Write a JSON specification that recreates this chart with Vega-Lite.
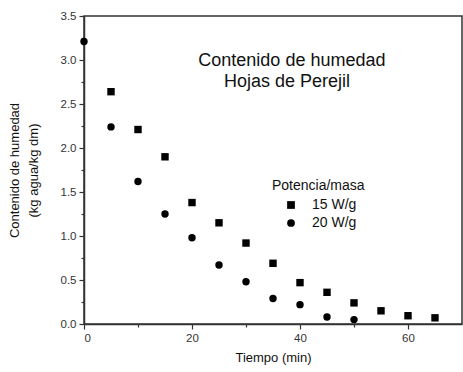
{
  "$schema": "https://vega.github.io/schema/vega-lite/v6.json",
  "width": 378,
  "height": 308,
  "autosize": "none",
  "padding": {"left": 84, "top": 16, "right": 1, "bottom": 48},
  "background": "white",
  "config": {
    "font": "Liberation Sans",
    "view": {"stroke": "#333", "strokeWidth": 1.5},
    "axis": {"grid": false, "domainColor": "#333", "domainWidth": 1.5, "tickColor": "#333", "tickWidth": 1.2, "labelColor": "#333", "labelFont": "Liberation Sans", "titleFont": "Liberation Sans", "titleFontWeight": "normal", "titleColor": "#111"}
  },
  "layer": [
    {
      "data": {"values": [
        {"serie": "20 W/g", "t": 0, "m": 3.21},
        {"serie": "15 W/g", "t": 5, "m": 2.64},
        {"serie": "15 W/g", "t": 10, "m": 2.21},
        {"serie": "15 W/g", "t": 15, "m": 1.9},
        {"serie": "15 W/g", "t": 20, "m": 1.38},
        {"serie": "15 W/g", "t": 25, "m": 1.15},
        {"serie": "15 W/g", "t": 30, "m": 0.92},
        {"serie": "15 W/g", "t": 35, "m": 0.69},
        {"serie": "15 W/g", "t": 40, "m": 0.47},
        {"serie": "15 W/g", "t": 45, "m": 0.36},
        {"serie": "15 W/g", "t": 50, "m": 0.24},
        {"serie": "15 W/g", "t": 55, "m": 0.15},
        {"serie": "15 W/g", "t": 60, "m": 0.094},
        {"serie": "15 W/g", "t": 65, "m": 0.07},
        {"serie": "20 W/g", "t": 5, "m": 2.24},
        {"serie": "20 W/g", "t": 10, "m": 1.62},
        {"serie": "20 W/g", "t": 15, "m": 1.25},
        {"serie": "20 W/g", "t": 20, "m": 0.98},
        {"serie": "20 W/g", "t": 25, "m": 0.67},
        {"serie": "20 W/g", "t": 30, "m": 0.48},
        {"serie": "20 W/g", "t": 35, "m": 0.29},
        {"serie": "20 W/g", "t": 40, "m": 0.22},
        {"serie": "20 W/g", "t": 45, "m": 0.08},
        {"serie": "20 W/g", "t": 50, "m": 0.05}
      ]},
      "mark": {"type": "point", "filled": true, "color": "black", "size": 55, "opacity": 1},
      "encoding": {
        "x": {"field": "t", "type": "quantitative", "scale": {"domain": [0, 70], "nice": false, "zero": false},
          "axis": {"orient": "bottom", "values": [0, 20, 40, 60], "tickSize": 5, "labelFontSize": 11.5, "labelPadding": 3, "title": "Tiempo (min)", "titleFontSize": 13, "titlePadding": 8}},
        "y": {"field": "m", "type": "quantitative", "scale": {"domain": [0, 3.5], "nice": false, "zero": false},
          "axis": {"orient": "left", "values": [0, 0.5, 1, 1.5, 2, 2.5, 3, 3.5], "format": ".1f", "tickSize": 5, "labelFontSize": 11.5, "labelPadding": 3,
            "title": ["Contenido de humedad", "(kg agua/kg dm)"], "titleFontSize": 13, "titlePadding": 20, "titleLineHeight": 19}},
        "shape": {"field": "serie", "type": "nominal", "scale": {"domain": ["15 W/g", "20 W/g"], "range": ["square", "circle"]},
          "legend": {"orient": "none", "legendX": 188, "legendY": 163, "title": "Potencia/masa", "titleFontSize": 14, "titleFontWeight": "normal", "titleColor": "#111", "titleFont": "Liberation Sans", "titlePadding": 5,
            "labelFontSize": 14, "labelColor": "#111", "labelFont": "Liberation Sans", "symbolSize": 60, "symbolFillColor": "black", "symbolStrokeColor": "black", "symbolOffset": 12, "labelOffset": 14, "rowPadding": 4}}
      }
    },
    {
      "data": {"values": [
        {"label": "Contenido de humedad", "t": 38.5, "m": 2.93},
        {"label": "Hojas de Perejil", "t": 37.6, "m": 2.69}
      ]},
      "mark": {"type": "text", "fontSize": 18, "font": "Liberation Sans", "color": "#111", "baseline": "alphabetic", "align": "center"},
      "encoding": {
        "x": {"field": "t", "type": "quantitative", "axis": {"orient": "bottom", "values": [10, 30, 50], "labels": false, "domain": false, "tickSize": 3, "title": null}},
        "y": {"field": "m", "type": "quantitative", "axis": {"orient": "left", "values": [0.25, 0.75, 1.25, 1.75, 2.25, 2.75, 3.25], "labels": false, "domain": false, "tickSize": 3, "title": null}},
        "text": {"field": "label"}
      }
    }
  ],
  "resolve": {"axis": {"x": "independent", "y": "independent"}}
}
